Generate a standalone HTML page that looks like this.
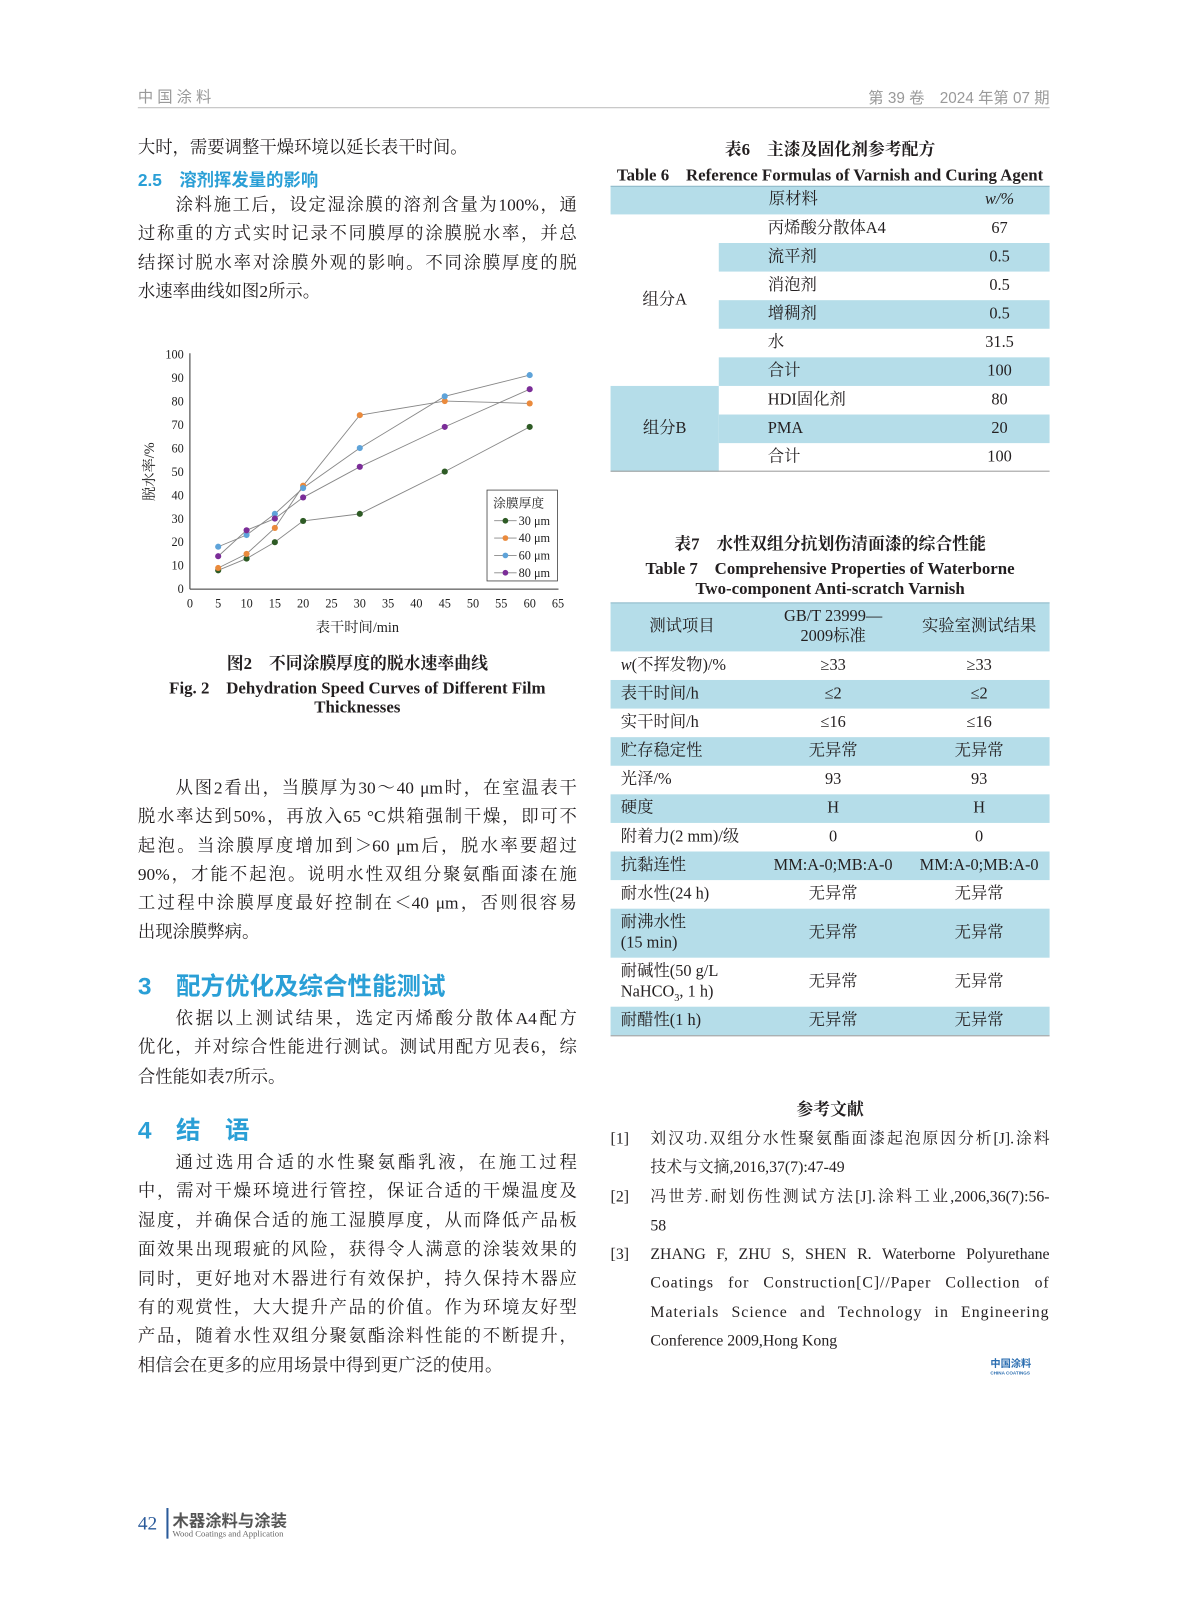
<!DOCTYPE html>
<html><head><meta charset="utf-8">
<style>
html,body{margin:0;padding:0;background:#fff;}
body{width:1187px;height:1600px;overflow:hidden;position:relative;}
#c{position:absolute;left:0;top:0;width:1163px;height:1568px;transform:scale(1.021);transform-origin:0 0;font-family:"Liberation Serif","Noto Serif CJK SC",serif;color:#231f20;}
.l{position:absolute;font-size:17px;line-height:20px;white-space:nowrap;}
.j{text-align:justify;text-align-last:justify;white-space:normal;}
.h{position:absolute;font-family:"Liberation Sans","Noto Sans CJK SC",sans-serif;color:#2a9fd6;font-weight:bold;white-space:nowrap;}
.b{position:absolute;background:#b5dde9;}
.t{position:absolute;font-size:16px;line-height:20px;white-space:nowrap;}
.c{text-align:center;}
.cap{position:absolute;font-weight:bold;font-size:16.5px;white-space:nowrap;text-align:center;}
</style></head><body><div id="c">
<div style="position:absolute;left:135px;top:84px;font-family:'Liberation Sans','Noto Sans CJK SC',sans-serif;color:#999;font-size:15px;letter-spacing:4px;">中国涂料</div>
<div style="position:absolute;right:135px;top:85px;font-family:'Liberation Sans','Noto Sans CJK SC',sans-serif;color:#999;font-size:15px;">第 39 卷　2024 年第 07 期</div>
<div style="position:absolute;left:135px;top:105px;width:893px;height:1px;background:#bbb;"></div>

<div class="l" style="left:135px;top:135px;">大时，需要调整干燥环境以延长表干时间。</div>
<div class="h" style="left:135px;top:162px;font-size:17px;">2.5　溶剂挥发量的影响</div>
<div class="l j" style="left:172px;top:191px;width:393px;">涂料施工后，设定湿涂膜的溶剂含量为100%，通</div>
<div class="l j" style="left:135px;top:219px;width:430px;">过称重的方式实时记录不同膜厚的涂膜脱水率，并总</div>
<div class="l j" style="left:135px;top:248px;width:430px;">结探讨脱水率对涂膜外观的影响。不同涂膜厚度的脱</div>
<div class="l" style="left:135px;top:276px;">水速率曲线如图2所示。</div>

<svg style="position:absolute;left:0;top:0" width="1163" height="700" font-family="Liberation Serif, Noto Serif CJK SC, serif">
<g stroke="#333" stroke-width="1" fill="none">
<line x1="186" y1="346" x2="186" y2="577"/><line x1="186" y1="577" x2="547" y2="577"/>
</g>
<g font-size="12" text-anchor="end" fill="#222">
<text x="180" y="581">0</text><text x="180" y="558">10</text><text x="180" y="535">20</text><text x="180" y="512">30</text><text x="180" y="489">40</text><text x="180" y="466">50</text><text x="180" y="443">60</text><text x="180" y="420">70</text><text x="180" y="397">80</text><text x="180" y="374">90</text><text x="180" y="351">100</text>
</g>
<g font-size="12" text-anchor="middle" fill="#222">
<text x="186" y="595">0</text><text x="213.7" y="595">5</text><text x="241.5" y="595">10</text><text x="269.2" y="595">15</text><text x="296.9" y="595">20</text><text x="324.7" y="595">25</text><text x="352.4" y="595">30</text><text x="380.1" y="595">35</text><text x="407.8" y="595">40</text><text x="435.6" y="595">45</text><text x="463.3" y="595">50</text><text x="491" y="595">55</text><text x="518.8" y="595">60</text><text x="546.5" y="595">65</text>
</g>
<text x="350" y="619" font-size="14" text-anchor="middle" fill="#222">表干时间/min</text>
<text transform="translate(151,462) rotate(-90)" font-size="14" text-anchor="middle" fill="#222">脱水率/%</text>
<g stroke="#888" stroke-width="0.9" fill="none">
<polyline points="213.7,558.6 241.5,547.1 269.2,531 296.9,510.2 352.4,503.3 435.6,461.9 518.8,418.1"/>
<polyline points="213.7,556.3 241.5,542.5 269.2,517.1 296.9,475.7 352.4,406.6 435.6,392.8 518.8,395.1"/>
<polyline points="213.7,535.5 241.5,524 269.2,503.3 296.9,478 352.4,438.8 435.6,388.2 518.8,367.4"/>
<polyline points="213.7,544.8 241.5,519.4 269.2,507.9 296.9,487.2 352.4,457.2 435.6,418.1 518.8,381.2"/>
</g>
<g fill="#2e5b25"><circle cx="213.7" cy="558.6" r="3"/><circle cx="241.5" cy="547.1" r="3"/><circle cx="269.2" cy="531" r="3"/><circle cx="296.9" cy="510.2" r="3"/><circle cx="352.4" cy="503.3" r="3"/><circle cx="435.6" cy="461.9" r="3"/><circle cx="518.8" cy="418.1" r="3"/></g>
<g fill="#ea8a3c"><circle cx="213.7" cy="556.3" r="3"/><circle cx="241.5" cy="542.5" r="3"/><circle cx="269.2" cy="517.1" r="3"/><circle cx="296.9" cy="475.7" r="3"/><circle cx="352.4" cy="406.6" r="3"/><circle cx="435.6" cy="392.8" r="3"/><circle cx="518.8" cy="395.1" r="3"/></g>
<g fill="#5ea3d9"><circle cx="213.7" cy="535.5" r="3"/><circle cx="241.5" cy="524" r="3"/><circle cx="269.2" cy="503.3" r="3"/><circle cx="296.9" cy="478" r="3"/><circle cx="352.4" cy="438.8" r="3"/><circle cx="435.6" cy="388.2" r="3"/><circle cx="518.8" cy="367.4" r="3"/></g>
<g fill="#7b2d98"><circle cx="213.7" cy="544.8" r="3"/><circle cx="241.5" cy="519.4" r="3"/><circle cx="269.2" cy="507.9" r="3"/><circle cx="296.9" cy="487.2" r="3"/><circle cx="352.4" cy="457.2" r="3"/><circle cx="435.6" cy="418.1" r="3"/><circle cx="518.8" cy="381.2" r="3"/></g>
<rect x="477" y="480" width="69" height="89" fill="#fff" stroke="#444" stroke-width="0.8"/>
<text x="483" y="497" font-size="12.5" fill="#222">涂膜厚度</text>
<g stroke="#888" stroke-width="0.9"><line x1="484" y1="510" x2="506" y2="510"/><line x1="484" y1="527" x2="506" y2="527"/><line x1="484" y1="544" x2="506" y2="544"/><line x1="484" y1="561" x2="506" y2="561"/></g>
<circle cx="495" cy="510" r="2.8" fill="#2e5b25"/><circle cx="495" cy="527" r="2.8" fill="#ea8a3c"/><circle cx="495" cy="544" r="2.8" fill="#5ea3d9"/><circle cx="495" cy="561" r="2.8" fill="#7b2d98"/>
<g font-size="12" fill="#222"><text x="508" y="514">30 μm</text><text x="508" y="531">40 μm</text><text x="508" y="548">60 μm</text><text x="508" y="565">80 μm</text></g>
</svg>

<div class="cap" style="left:135px;width:430px;top:636px;">图2　不同涂膜厚度的脱水速率曲线</div>
<div class="cap" style="left:135px;width:430px;top:660px;">Fig. 2　Dehydration Speed Curves of Different Film</div>
<div class="cap" style="left:135px;width:430px;top:683px;">Thicknesses</div>

<div class="l j" style="left:172px;top:762px;width:393px;">从图2看出，当膜厚为30～40 μm时，在室温表干</div>
<div class="l j" style="left:135px;top:790px;width:430px;">脱水率达到50%，再放入65 °C烘箱强制干燥，即可不</div>
<div class="l j" style="left:135px;top:819px;width:430px;">起泡。当涂膜厚度增加到＞60 μm后，脱水率要超过</div>
<div class="l j" style="left:135px;top:847px;width:430px;">90%，才能不起泡。说明水性双组分聚氨酯面漆在施</div>
<div class="l j" style="left:135px;top:875px;width:430px;">工过程中涂膜厚度最好控制在＜40 μm，否则很容易</div>
<div class="l" style="left:135px;top:903px;">出现涂膜弊病。</div>
<div class="h" style="left:135px;top:946px;font-size:24px;">3　配方优化及综合性能测试</div>
<div class="l j" style="left:172px;top:988px;width:393px;">依据以上测试结果，选定丙烯酸分散体A4配方</div>
<div class="l j" style="left:135px;top:1016px;width:430px;">优化，并对综合性能进行测试。测试用配方见表6，综</div>
<div class="l" style="left:135px;top:1045px;">合性能如表7所示。</div>
<div class="h" style="left:135px;top:1087px;font-size:24px;">4　结　语</div>
<div class="l j" style="left:172px;top:1129px;width:393px;">通过选用合适的水性聚氨酯乳液，在施工过程</div>
<div class="l j" style="left:135px;top:1157px;width:430px;">中，需对干燥环境进行管控，保证合适的干燥温度及</div>
<div class="l j" style="left:135px;top:1186px;width:430px;">湿度，并确保合适的施工湿膜厚度，从而降低产品板</div>
<div class="l j" style="left:135px;top:1214px;width:430px;">面效果出现瑕疵的风险，获得令人满意的涂装效果的</div>
<div class="l j" style="left:135px;top:1243px;width:430px;">同时，更好地对木器进行有效保护，持久保持木器应</div>
<div class="l j" style="left:135px;top:1271px;width:430px;">有的观赏性，大大提升产品的价值。作为环境友好型</div>
<div class="l j" style="left:135px;top:1299px;width:430px;">产品，随着水性双组分聚氨酯涂料性能的不断提升，</div>
<div class="l" style="left:135px;top:1328px;">相信会在更多的应用场景中得到更广泛的使用。</div>

<div class="cap" style="left:598px;width:430px;top:133px;">表6　主漆及固化剂参考配方</div>
<div class="cap" style="left:598px;width:430px;top:158px;">Table 6　Reference Formulas of Varnish and Curing Agent</div>
<div class="b" style="left:598px;top:182px;width:430px;height:28px;"></div>
<div class="b" style="left:704px;top:238px;width:324px;height:28px;"></div>
<div class="b" style="left:704px;top:294px;width:324px;height:28px;"></div>
<div class="b" style="left:704px;top:350px;width:324px;height:28px;"></div>
<div class="b" style="left:598px;top:378px;width:106px;height:84px;"></div>
<div class="b" style="left:704px;top:406px;width:324px;height:28px;"></div>
<div style="position:absolute;left:598px;top:182px;width:430px;height:1px;background:#8fb8c8;"></div>
<div style="position:absolute;left:598px;top:461px;width:430px;height:1px;background:#999;"></div>
<div class="t c" style="left:704px;width:146px;top:186px;">原材料</div>
<div class="t c" style="left:930px;width:98px;top:186px;font-style:italic;">w/%</div>
<div class="t c" style="left:598px;width:106px;top:284px;">组分A</div>
<div class="t c" style="left:598px;width:106px;top:410px;">组分B</div>
<div class="t" style="left:752px;top:214px;">丙烯酸分散体A4</div><div class="t c" style="left:930px;width:98px;top:214px;">67</div>
<div class="t" style="left:752px;top:242px;">流平剂</div><div class="t c" style="left:930px;width:98px;top:242px;">0.5</div>
<div class="t" style="left:752px;top:270px;">消泡剂</div><div class="t c" style="left:930px;width:98px;top:270px;">0.5</div>
<div class="t" style="left:752px;top:298px;">增稠剂</div><div class="t c" style="left:930px;width:98px;top:298px;">0.5</div>
<div class="t" style="left:752px;top:326px;">水</div><div class="t c" style="left:930px;width:98px;top:326px;">31.5</div>
<div class="t" style="left:752px;top:354px;">合计</div><div class="t c" style="left:930px;width:98px;top:354px;">100</div>
<div class="t" style="left:752px;top:382px;">HDI固化剂</div><div class="t c" style="left:930px;width:98px;top:382px;">80</div>
<div class="t" style="left:752px;top:410px;">PMA</div><div class="t c" style="left:930px;width:98px;top:410px;">20</div>
<div class="t" style="left:752px;top:438px;">合计</div><div class="t c" style="left:930px;width:98px;top:438px;">100</div>

<div class="cap" style="left:598px;width:430px;top:519px;">表7　水性双组分抗划伤清面漆的综合性能</div>
<div class="cap" style="left:598px;width:430px;top:543px;">Table 7　Comprehensive Properties of Waterborne</div>
<div class="cap" style="left:598px;width:430px;top:567px;">Two-component Anti-scratch Varnish</div>
<div class="b" style="left:598px;top:590px;width:430px;height:48px;"></div>
<div class="b" style="left:598px;top:666px;width:430px;height:28px;"></div>
<div class="b" style="left:598px;top:722px;width:430px;height:28px;"></div>
<div class="b" style="left:598px;top:778px;width:430px;height:28px;"></div>
<div class="b" style="left:598px;top:834px;width:430px;height:28px;"></div>
<div class="b" style="left:598px;top:890px;width:430px;height:48px;"></div>
<div class="b" style="left:598px;top:986px;width:430px;height:28px;"></div>
<div style="position:absolute;left:598px;top:590px;width:430px;height:1px;background:#8fb8c8;"></div>
<div style="position:absolute;left:598px;top:1014px;width:430px;height:1px;background:#999;"></div>
<div class="t c" style="left:598px;width:140px;top:604px;">测试项目</div>
<div class="t c" style="left:745px;width:142px;top:594px;">GB/T 23999—<br>2009标准</div>
<div class="t c" style="left:890px;width:138px;top:604px;">实验室测试结果</div>
<div class="t" style="left:608px;top:642px;"><i>w</i>(不挥发物)/%</div><div class="t c" style="left:745px;width:142px;top:642px;">≥33</div><div class="t c" style="left:890px;width:138px;top:642px;">≥33</div>
<div class="t" style="left:608px;top:670px;">表干时间/h</div><div class="t c" style="left:745px;width:142px;top:670px;">≤2</div><div class="t c" style="left:890px;width:138px;top:670px;">≤2</div>
<div class="t" style="left:608px;top:698px;">实干时间/h</div><div class="t c" style="left:745px;width:142px;top:698px;">≤16</div><div class="t c" style="left:890px;width:138px;top:698px;">≤16</div>
<div class="t" style="left:608px;top:726px;">贮存稳定性</div><div class="t c" style="left:745px;width:142px;top:726px;">无异常</div><div class="t c" style="left:890px;width:138px;top:726px;">无异常</div>
<div class="t" style="left:608px;top:754px;">光泽/%</div><div class="t c" style="left:745px;width:142px;top:754px;">93</div><div class="t c" style="left:890px;width:138px;top:754px;">93</div>
<div class="t" style="left:608px;top:782px;">硬度</div><div class="t c" style="left:745px;width:142px;top:782px;">H</div><div class="t c" style="left:890px;width:138px;top:782px;">H</div>
<div class="t" style="left:608px;top:810px;">附着力(2 mm)/级</div><div class="t c" style="left:745px;width:142px;top:810px;">0</div><div class="t c" style="left:890px;width:138px;top:810px;">0</div>
<div class="t" style="left:608px;top:838px;">抗黏连性</div><div class="t c" style="left:745px;width:142px;top:838px;">MM:A-0;MB:A-0</div><div class="t c" style="left:890px;width:138px;top:838px;">MM:A-0;MB:A-0</div>
<div class="t" style="left:608px;top:866px;">耐水性(24 h)</div><div class="t c" style="left:745px;width:142px;top:866px;">无异常</div><div class="t c" style="left:890px;width:138px;top:866px;">无异常</div>
<div class="t" style="left:608px;top:894px;">耐沸水性<br>(15 min)</div><div class="t c" style="left:745px;width:142px;top:904px;">无异常</div><div class="t c" style="left:890px;width:138px;top:904px;">无异常</div>
<div class="t" style="left:608px;top:942px;">耐碱性(50 g/L<br>NaHCO<sub style="font-size:10px">3</sub>, 1 h)</div><div class="t c" style="left:745px;width:142px;top:952px;">无异常</div><div class="t c" style="left:890px;width:138px;top:952px;">无异常</div>
<div class="t" style="left:608px;top:990px;">耐醋性(1 h)</div><div class="t c" style="left:745px;width:142px;top:990px;">无异常</div><div class="t c" style="left:890px;width:138px;top:990px;">无异常</div>

<div class="cap" style="left:598px;width:430px;top:1073px;">参考文献</div>
<div style="position:absolute;left:598px;top:1102px;font-size:15.5px;line-height:28.3px;">
<div style="position:absolute;left:0;top:0;">[1]</div>
<div style="position:absolute;left:0;top:56.6px;">[2]</div>
<div style="position:absolute;left:0;top:113.2px;">[3]</div>
<div style="position:absolute;left:39px;top:0;width:391px;text-align:justify;text-align-last:justify;">
<div>刘汉功.双组分水性聚氨酯面漆起泡原因分析[J].涂料</div>
<div style="text-align-last:left">技术与文摘,2016,37(7):47-49</div>
<div>冯世芳.耐划伤性测试方法[J].涂料工业,2006,36(7):56-</div>
<div style="text-align-last:left">58</div>
<div>ZHANG F, ZHU S, SHEN R. Waterborne Polyurethane</div>
<div style="letter-spacing:0.9px">Coatings for Construction[C]//Paper Collection of</div>
<div style="letter-spacing:1px">Materials Science and Technology in Engineering</div>
<div style="text-align-last:left">Conference 2009,Hong Kong</div>
</div></div>
<div style="position:absolute;left:970px;top:1327px;font-family:'Liberation Sans','Noto Sans CJK SC',sans-serif;color:#2a6db0;font-weight:bold;font-size:10px;">中国涂料<div style="font-size:4.5px;line-height:6px;">CHINA COATINGS</div></div>

<div style="position:absolute;left:135px;top:1482px;font-size:19px;color:#2a5a9a;">42</div>
<div style="position:absolute;left:163px;top:1477px;width:2px;height:30px;background:#2a5a9a;"></div>
<div style="position:absolute;left:169px;top:1476px;font-family:'Liberation Sans','Noto Sans CJK SC',sans-serif;font-size:16px;color:#555;font-weight:bold;">木器涂料与涂装</div>
<div style="position:absolute;left:169px;top:1497px;font-size:8.5px;color:#666;">Wood Coatings and Application</div>
</div></body></html>
